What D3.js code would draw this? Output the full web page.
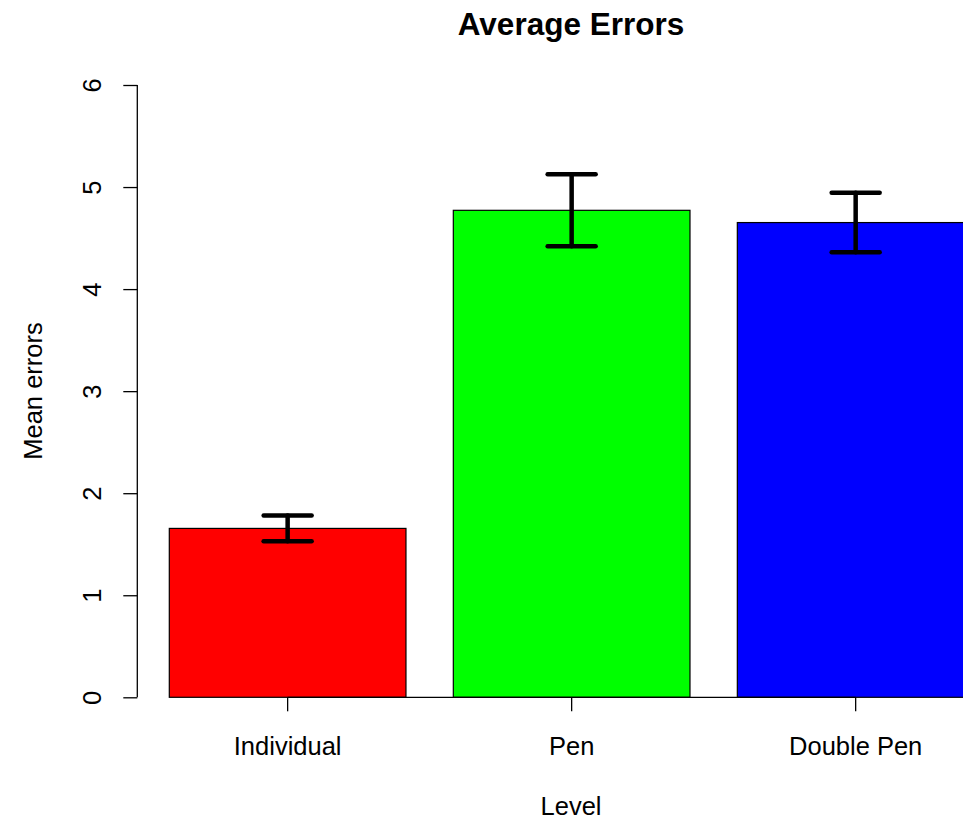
<!DOCTYPE html>
<html>
<head>
<meta charset="utf-8">
<script src="https://cdn.jsdelivr.net/npm/d3@7"></script>
<style>
  html, body { margin: 0; padding: 0; background: #fff; }
  svg { display: block; }
  text { font-family: "Liberation Sans", Arial, sans-serif; fill: #000; }
</style>
</head>
<body>
<script>
// Mean number of errors per condition, with standard errors
const levels = ["Individual", "Pen", "Double Pen"];
const meanErrors = [1.655, 4.772, 4.652];
const stdErrors = [0.127, 0.353, 0.292];
const barColors = ["#ff0000", "#00ff00", "#0000ff"];
const yTicks = [0, 1, 2, 3, 4, 5, 6];

const width = 963, height = 822;
const labelSize = 25.5;
const svg = d3.select("body").append("svg")
  .attr("width", width).attr("height", height);

// Scales: bars fill the band, gaps are 1/6 of each step
const x = d3.scaleBand()
  .domain(levels)
  .range([169.3, 974])
  .paddingInner(1 / 6)
  .paddingOuter(0);

const y = d3.scaleLinear().domain([0, 6]).range([697.3, 85]);

const axisX = 137.3;
const baseY = y(0);

// Bars
svg.append("g").selectAll("rect")
  .data(levels)
  .join("rect")
  .attr("x", d => x(d))
  .attr("y", (d, i) => y(meanErrors[i]))
  .attr("width", x.bandwidth())
  .attr("height", (d, i) => baseY - y(meanErrors[i]))
  .attr("fill", (d, i) => barColors[i])
  .attr("stroke", "#000")
  .attr("stroke-width", 1.2);

// Error bars (mean ± standard error)
const errG = svg.append("g")
  .attr("stroke", "#000")
  .attr("stroke-width", 4.5)
  .attr("stroke-linecap", "round");
levels.forEach((lv, i) => {
  const cx = x(lv) + x.bandwidth() / 2;
  const hi = y(meanErrors[i] + stdErrors[i]);
  const lo = y(meanErrors[i] - stdErrors[i]);
  errG.append("line").attr("x1", cx).attr("x2", cx).attr("y1", hi).attr("y2", lo);
  errG.append("line").attr("x1", cx - 24).attr("x2", cx + 24).attr("y1", hi).attr("y2", hi);
  errG.append("line").attr("x1", cx - 24).attr("x2", cx + 24).attr("y1", lo).attr("y2", lo);
});

// Y axis: ticks with rotated labels
const yAxis = svg.append("g")
  .attr("transform", `translate(${axisX},0)`)
  .call(d3.axisLeft(y).tickValues(yTicks).tickSize(14).tickPadding(0).tickFormat(d3.format("d")));
yAxis.select(".domain").attr("stroke", "#000").attr("stroke-width", 1.3)
  .attr("d", `M0,${y(6)}V${y(0)}`);
yAxis.selectAll(".tick line").attr("stroke", "#000").attr("stroke-width", 1.3);
yAxis.selectAll(".tick text")
  .attr("x", null).attr("dy", null)
  .attr("text-anchor", "middle")
  .attr("font-size", labelSize)
  .attr("font-family", "Liberation Sans, Arial, sans-serif")
  .attr("transform", "translate(-36,0) rotate(-90)")
  .attr("fill", "#000");

// X axis: line between the outer bar centres, with ticks
const firstC = x(levels[0]) + x.bandwidth() / 2;
const lastC = x(levels[levels.length - 1]) + x.bandwidth() / 2;
const xAxis = svg.append("g")
  .attr("transform", `translate(0,${baseY})`)
  .call(d3.axisBottom(x).tickSize(14).tickPadding(0));
xAxis.select(".domain").attr("stroke", "#000").attr("stroke-width", 1.3)
  .attr("d", `M${firstC},0H${lastC}`);
xAxis.selectAll(".tick line").attr("stroke", "#000").attr("stroke-width", 1.3);
xAxis.selectAll(".tick text")
  .attr("y", 58).attr("dy", null)
  .attr("font-size", labelSize)
  .attr("font-family", "Liberation Sans, Arial, sans-serif")
  .attr("fill", "#000");

// Titles
svg.append("text")
  .attr("x", 571).attr("y", 35)
  .attr("text-anchor", "middle")
  .attr("font-size", 31.5)
  .attr("font-weight", "bold")
  .text("Average Errors");

svg.append("text")
  .attr("x", 571).attr("y", 815)
  .attr("text-anchor", "middle")
  .attr("font-size", labelSize)
  .text("Level");

svg.append("text")
  .attr("transform", "translate(42,391) rotate(-90)")
  .attr("text-anchor", "middle")
  .attr("font-size", labelSize)
  .text("Mean errors");
</script>
</body>
</html>
